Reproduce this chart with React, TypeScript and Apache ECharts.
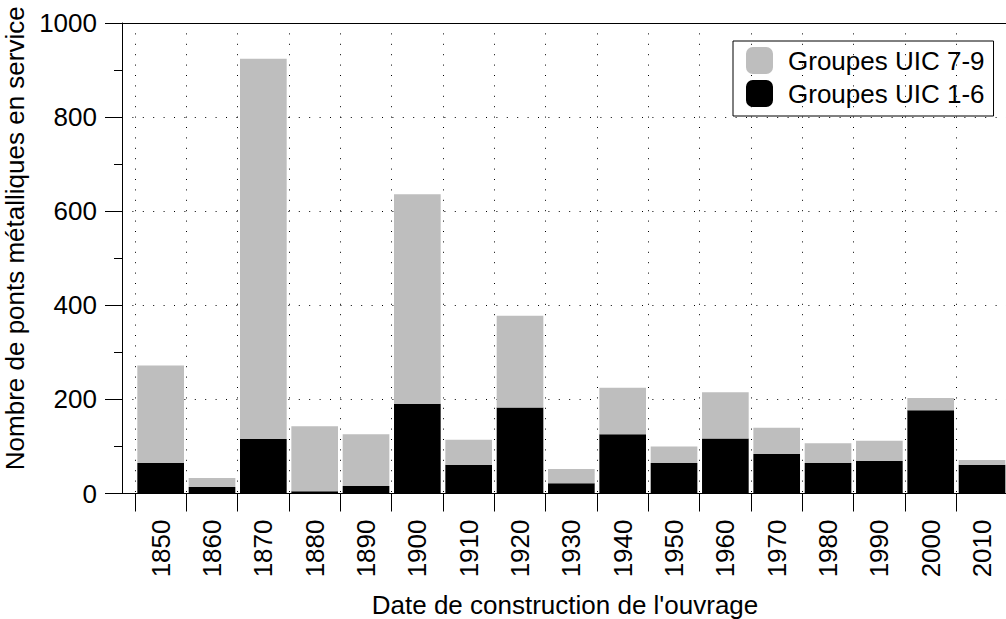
import React, { useEffect, useRef } from 'react';
import * as echarts from 'echarts';

const years = ['1850', '1860', '1870', '1880', '1890', '1900', '1910', '1920', '1930', '1940', '1950', '1960', '1970', '1980', '1990', '2000', '2010'];
const uic16 = [65, 14, 116, 5, 16, 191, 61, 183, 22, 126, 65, 117, 84, 65, 69, 177, 61];
const uic79 = [207, 19, 808, 138, 110, 445, 53, 195, 30, 99, 35, 98, 56, 42, 43, 26, 10];
const legendNames = ['Groupes UIC 7-9', 'Groupes UIC 1-6'];
const yTitle = 'Nombre de ponts métalliques en service';
const xTitle = "Date de construction de l'ouvrage";

export default function App() {
  const ref = useRef<HTMLDivElement>(null);
  useEffect(() => {
    document.body.style.margin = '0';
    const chart = echarts.init(ref.current!, null, { renderer: 'svg' });
    const font = 'Liberation Sans';
    const black = { color: '#000', width: 1 };
    const dotted = { color: '#000', width: 1, type: [1, 9.4] };
    chart.setOption({
      animation: false,
      textStyle: { fontFamily: font },
      grid: [
        { left: 122, right: -2, top: 23, bottom: 125.5, containLabel: false, outerBoundsMode: 'none' },
        { left: 135, right: -1.7, top: 23, bottom: 125.5, containLabel: false, outerBoundsMode: 'none' },
      ],
      xAxis: [
        {
          gridIndex: 0, type: 'value', min: 0, max: 1, position: 'bottom',
          axisLine: { show: true, lineStyle: black }, axisTick: { show: false },
          axisLabel: { show: false }, splitLine: { show: false },
          name: xTitle, nameLocation: 'middle', nameGap: 98,
          nameTextStyle: { fontSize: 26, color: '#000', fontFamily: font },
        },
        {
          gridIndex: 0, type: 'value', min: 0, max: 1, position: 'top',
          axisLine: { show: true, lineStyle: black }, axisTick: { show: false },
          axisLabel: { show: false }, splitLine: { show: false },
        },
        {
          gridIndex: 1, type: 'category', data: years, position: 'bottom',
          axisLine: { show: false },
          axisTick: { show: true, length: 18, lineStyle: black },
          axisLabel: { rotate: 90, margin: 26, fontSize: 26, color: '#000', interval: 0, fontFamily: font },
          splitLine: { show: true, interval: 0, lineStyle: dotted },
        },
      ],
      yAxis: [
        {
          gridIndex: 0, type: 'value', min: 0, max: 1000, interval: 200,
          axisLine: { show: true, lineStyle: black },
          axisTick: { show: true, length: 17, lineStyle: black },
          minorTick: { show: true, splitNumber: 2, length: 8, lineStyle: black },
          axisLabel: { margin: 25, fontSize: 26, color: '#000', fontFamily: font, formatter: (v: number) => String(v) },
          splitLine: { show: true, lineStyle: dotted },
          name: yTitle, nameLocation: 'middle', nameGap: 82,
          nameTextStyle: { fontSize: 26, color: '#000', fontFamily: font, padding: [0, 0, 0, 40] },
        },
        { gridIndex: 1, type: 'value', min: 0, max: 1000, show: false },
      ],
      legend: {
        orient: 'vertical', left: 733, top: 41,
        data: legendNames, icon: 'roundRect',
        itemWidth: 27, itemHeight: 27, itemGap: 6,
        padding: [6, 9, 9, 13],
        borderColor: '#000', borderWidth: 1, borderRadius: 0,
        textStyle: { fontSize: 26, color: '#000', fontFamily: font, padding: [0, 0, 0, 10] },
      },
      series: [
        {
          name: legendNames[1], type: 'bar', stack: 'total', xAxisIndex: 2, yAxisIndex: 1,
          data: uic16, itemStyle: { color: '#000' }, barCategoryGap: '9.1%',
        },
        {
          name: legendNames[0], type: 'bar', stack: 'total', xAxisIndex: 2, yAxisIndex: 1,
          data: uic79, itemStyle: { color: '#bebebe' }, barCategoryGap: '9.1%',
        },
      ],
    });
    return () => chart.dispose();
  }, []);
  return <div ref={ref} style={{ position: 'absolute', left: 0, top: 0, width: 1006, height: 619 }} />;
}
